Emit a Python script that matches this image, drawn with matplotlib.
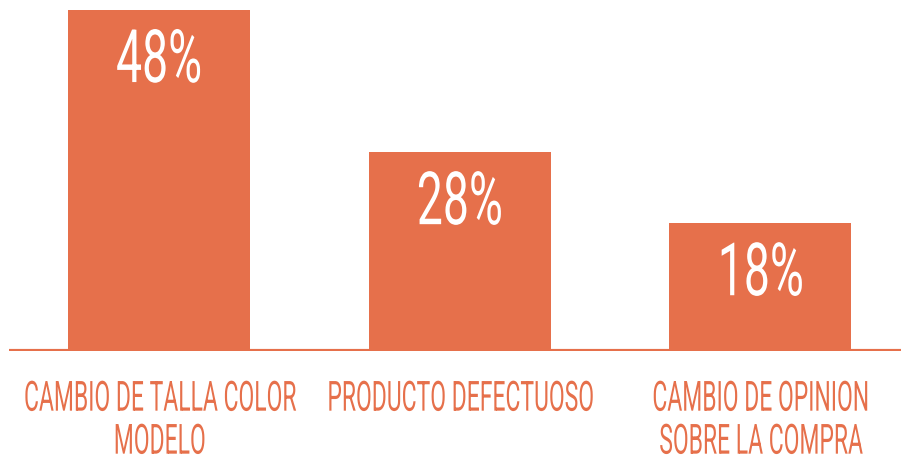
import matplotlib
matplotlib.use("Agg")
import matplotlib.pyplot as plt
from matplotlib import patheffects
from matplotlib.transforms import Affine2D

# data
categories = ["CAMBIO DE TALLA COLOR\nMODELO", "PRODUCTO DEFECTUOSO", "CAMBIO DE OPINION\nSOBRE LA COMPRA"]
values = [48, 28, 18]
labels = ["48%", "28%", "18%"]

orange = "#E6704B"
font = ["Roboto", "DejaVu Sans"]


# squeeze glyphs horizontally about their own centre (condensed look)
class Squash(patheffects.AbstractPathEffect):
    def __init__(self, sx):
        super().__init__()
        self.sx = sx

    def draw_path(self, renderer, gc, tpath, affine, rgbFace=None):
        bb = tpath.get_extents(affine)
        cx = (bb.x0 + bb.x1) / 2
        squash = Affine2D().translate(-cx, 0).scale(self.sx, 1).translate(cx, 0)
        renderer.draw_path(gc, tpath, affine + squash, rgbFace)


fig = plt.figure(figsize=(9.01, 4.58), dpi=100)
ax = fig.add_axes([9 / 901, 1 - 351 / 458, 892 / 901, 351 / 458])

x = range(len(values))
ax.bar(x, values, width=0.605, color=orange, zorder=2)
ax.axhline(0, color=orange, lw=3, zorder=3)

for xi, v, lab in zip(x, values, labels):
    ax.text(xi, v - 10.15, lab, ha="center", va="baseline", color="white",
            fontsize=53, family=font, path_effects=[Squash(0.63)])

# each label line placed on its own baseline
for xi, cat in zip(x, categories):
    for k, line in enumerate(cat.split("\n")):
        ax.text(xi, -8.4 - k * 6.05, line, ha="center", va="baseline", color=orange,
                fontsize=30, family=font, path_effects=[Squash(0.55)])

ax.set_xlim(-0.5, 2.468)
ax.set_ylim(0, 49.4)
ax.axis("off")

fig.savefig("out.png", dpi=100)
